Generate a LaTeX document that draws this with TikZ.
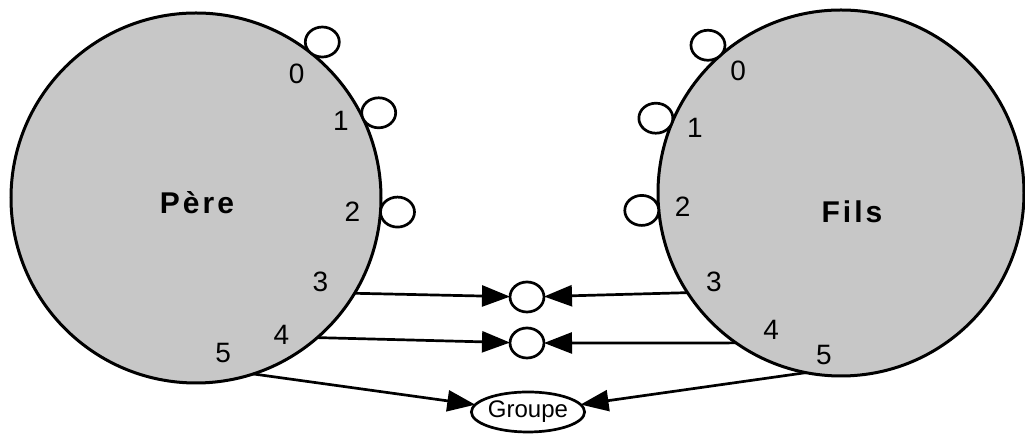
\documentclass[tikz,border=0pt]{standalone}
\usepackage{fontspec}
\setmainfont{Liberation Sans}
\usepackage{tikz}
\usetikzlibrary{shapes,shapes.geometric}
\usetikzlibrary{calc,positioning,arrows.meta}

\begin{document}
\begin{tikzpicture}[
	%	style def
	x=0.5pt, y=0.5pt,
	process/.style={circle, draw=black, line width=1.5pt, fill=black!22, inner sep=0pt, outer sep=0pt},
	process name/.style={font=\fontsize{15}{17}\selectfont\bfseries\addfontfeature{LetterSpace=10}},
	slot/.style={ellipse, draw=black, line width=1.35pt, fill=white, minimum width=17pt, minimum height=15pt, inner sep=0pt, outer sep=0pt},
	num/.style={font=\fontsize{14}{16}\selectfont, inner sep=0pt},
	link/.style={line width=1.35pt, -{Triangle[length=14pt,width=10.5pt]}},
	every node/.style={color=black}
	]

	\useasboundingbox (0,0) rectangle (1025,438);

	% the two processes
	\node[process, minimum size=185pt] (pere) at (196,240) {};
	\node[process, minimum size=183pt] (fils) at (841,245) {};
	\node[process name] (pere name) at (197,235) {Père};
	\node[process name] (fils name) at (852,226) {Fils};

	% open descriptors 0,1,2 sitting on the border
	\node[slot, anchor=231] (p0) at (pere.51) {};
	\node[slot, anchor=205] (p1) at (pere.25) {};
	\node[slot, anchor=176] (p2) at (pere.-4) {};
	\node[slot, anchor=-48] (f0) at (fils.132) {};
	\node[slot, anchor=-22] (f1) at (fils.158) {};
	\node[slot, anchor=5] (f2) at (fils.185) {};

	% descriptor numbers
	\node[num] (np0) at ($(pere.center)+(51:160)$) {0};
	\node[num] (np1) at ($(pere.center)+(28:164)$) {1};
	\node[num] (np2) at ($(pere.center)+(-5:157)$) {2};
	\node[num] (np3) at ($(pere.center)+(-34:150)$) {3};
	\node[num] (np4) at ($(pere.center)+(-58:161)$) {4};
	\node[num] (np5) at ($(pere.center)+(-80:157)$) {5};
	\node[num] (nf0) at ($(fils.center)+(130:160)$) {0};
	\node[num] (nf1) at ($(fils.center)+(156:160)$) {1};
	\node[num] (nf2) at ($(fils.center)+(185:159)$) {2};
	\node[num] (nf3) at ($(fils.center)+(215:155)$) {3};
	\node[num] (nf4) at ($(fils.center)+(243:154)$) {4};
	\node[num] (nf5) at ($(fils.center)+(264:163)$) {5};

	% shared objects
	\node[slot] (m3) at (527,141) {};
	\node[slot] (m4) at (527,95) {};
	\node[slot, minimum width=54pt, minimum height=20pt, font=\fontsize{12}{14}\selectfont] (groupe) at (528,26) {Groupe};

	% both processes point to the same objects
	\draw[link] (pere.-31) -- (m3);
	\draw[link] (pere.-49) -- (m4);
	\draw[link] (pere.-72) -- (groupe);
	\draw[link] (fils.213) -- (m3);
	\draw[link] (fils.235.5) -- (m4);
	\draw[link] (fils.259) -- (groupe);

\end{tikzpicture}
\end{document}
